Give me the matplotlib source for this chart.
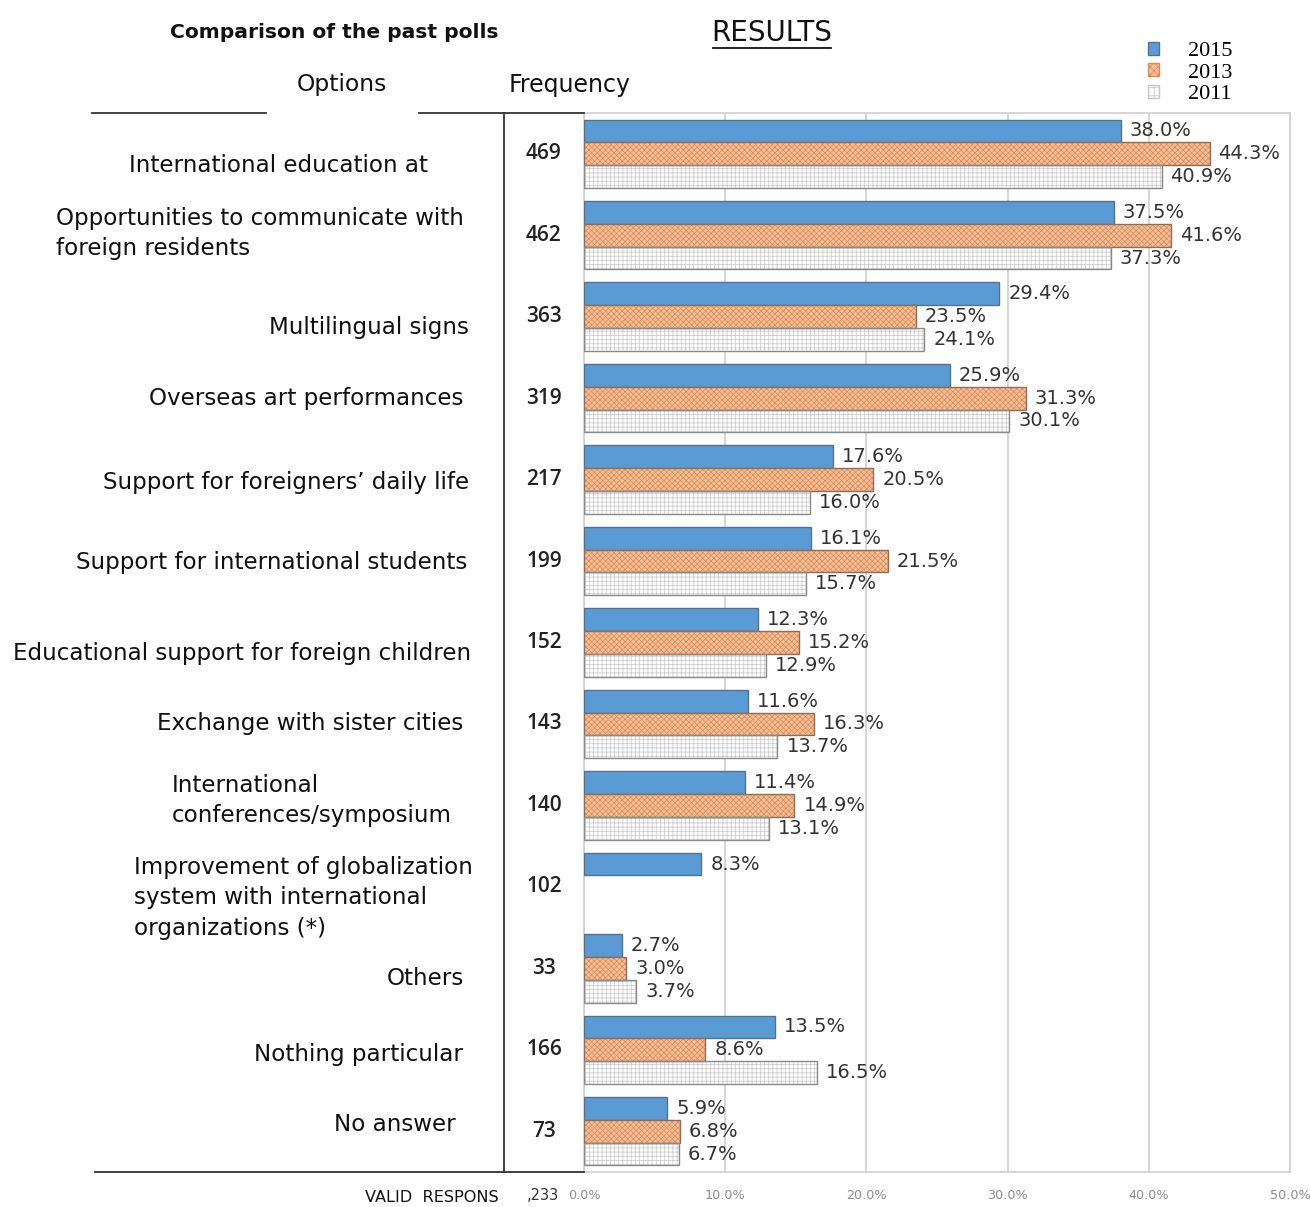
import numpy as np
import matplotlib
matplotlib.use("Agg")
import matplotlib.pyplot as plt
from matplotlib.patches import Patch
from matplotlib.lines import Line2D
from matplotlib import transforms

# ---- data ----
options = [
    "International education at",
    "Opportunities to communicate with\nforeign residents",
    "Multilingual signs",
    "Overseas art performances",
    "Support for foreigners\u2019 daily life",
    "Support for international students",
    "Educational support for foreign children",
    "Exchange with sister cities",
    "International\nconferences/symposium",
    "Improvement of globalization\nsystem with international\norganizations (*)",
    "Others",
    "Nothing particular",
    "No answer",
]
frequency = [469, 462, 363, 319, 217, 199, 152, 143, 140, 102, 33, 166, 73]
pct_2015 = [38.0, 37.5, 29.4, 25.9, 17.6, 16.1, 12.3, 11.6, 11.4, 8.3, 2.7, 13.5, 5.9]
pct_2013 = [44.3, 41.6, 23.5, 31.3, 20.5, 21.5, 15.2, 16.3, 14.9, np.nan, 3.0, 8.6, 6.8]
pct_2011 = [40.9, 37.3, 24.1, 30.1, 16.0, 15.7, 12.9, 13.7, 13.1, np.nan, 3.7, 16.5, 6.7]
years = ["2015", "2013", "2011"]
xticks = [0, 10, 20, 30, 40, 50]
valid_total = ",233"

# ---- layout of the option labels: (x pixel, horizontal alignment, y pixel offset) ----
label_layout = [
    (428, "right", -12), (56, "left", 2), (469, "right", -11), (463, "right", 0),
    (469, "right", -3), (467, "right", -1), (471, "right", -11), (463, "right", 0),
    (172, "left", 5), (134, "left", -11), (464, "right", -10), (463, "right", -5),
    (456, "right", 7),
]

W, H = 1310, 1207
fig = plt.figure(figsize=(W / 100, H / 100), dpi=100)
fig.patch.set_facecolor("white")

def fx(px):
    return px / W

def fy(py):
    return 1 - py / H

ax = fig.add_axes([fx(584), fy(1172), fx(1290) - fx(584), fy(113) - fy(1172)])

n = len(options)
y = np.arange(n)
bh = 0.28

plt.rcParams["hatch.linewidth"] = 0.5

blue = "#5B9BD5"
blue_edge = "#56718C"
orange = "#F6BE96"
orange_hatch = "#D98A55"
orange_edge = "#8C6E5A"
white_hatch = "#C8C8C8"
white_edge = "#8A8A8A"

b15 = ax.barh(y - bh, pct_2015, height=bh, color=blue, edgecolor=blue_edge, linewidth=1.0, zorder=3)
ax.barh(y, pct_2013, height=bh, color=orange, edgecolor=orange_hatch, hatch="xxxxxx", linewidth=0, zorder=3)
b13 = ax.barh(y, pct_2013, height=bh, fill=False, edgecolor=orange_edge, linewidth=1.0, zorder=4)
ax.barh(y + bh, pct_2011, height=bh, color="#FBFBFB", edgecolor=white_hatch, hatch="++++", linewidth=0, zorder=3)
b11 = ax.barh(y + bh, pct_2011, height=bh, fill=False, edgecolor=white_edge, linewidth=1.0, zorder=4)

ax.set_xlim(0, 50)
ax.set_ylim(n - 0.5, -0.5)
ax.set_yticks([])
ax.set_xticks(xticks)
ax.set_xticklabels([f"{t:.1f}%" for t in xticks], fontsize=9.2, color="#8C8C8C")
ax.tick_params(axis="x", length=0, pad=12)
ax.grid(axis="x", color="#D0D0D0", linewidth=1.2, zorder=0)
for s in ax.spines.values():
    s.set_color("#D0D0D0")
    s.set_linewidth(1.2)

# value labels next to each bar
for vals, off in ((pct_2015, -bh), (pct_2013, 0), (pct_2011, bh)):
    for i, v in enumerate(vals):
        if np.isnan(v):
            continue
        ax.annotate(f"{v:.1f}%", xy=(v, i + off), xytext=(9, 0), textcoords="offset pixels",
                    ha="left", va="center", fontsize=14, color="#333333", zorder=5)

# frequency column and option labels
tr = transforms.blended_transform_factory(fig.transFigure, ax.transData)
for i, f in enumerate(frequency):
    ax.annotate(str(f), xy=(fx(544), i), xycoords=tr, ha="center", va="center",
                fontsize=15, fontweight="semibold", family=["Open Sans", "DejaVu Sans"],
                color="#222222", annotation_clip=False)
for i, (txt, (px, ha, dy)) in enumerate(zip(options, label_layout)):
    ax.annotate(txt, xy=(fx(px), i), xycoords=tr, xytext=(0, dy), textcoords="offset pixels",
                ha=ha, va="center", fontsize=16.6, color="#111111", linespacing=1.4,
                multialignment="left", annotation_clip=False)

# header texts
fig.text(fx(334), fy(32), "Comparison of the past polls", ha="center", va="center",
         fontsize=14.6, fontweight="bold", color="#111111")
fig.text(fx(342), fy(85), "Options", ha="center", va="center", fontsize=16.8, color="#111111")
fig.text(fx(570), fy(85), "Frequency", ha="center", va="center", fontsize=17, color="#111111")
fig.text(fx(772), fy(33), "RESULTS", ha="center", va="center", fontsize=20,
         family=["Liberation Sans Narrow", "DejaVu Sans"], color="#111111")
fig.add_artist(Line2D([fx(713), fx(831)], [fy(48), fy(48)], color="#111111", linewidth=1.3))

# table rules
rule = dict(color="#333333", linewidth=1.3)
fig.add_artist(Line2D([fx(92), fx(266)], [fy(113), fy(113)], **rule))
fig.add_artist(Line2D([fx(419), fx(584)], [fy(113), fy(113)], **rule))
fig.add_artist(Line2D([fx(504), fx(504)], [fy(113), fy(1172)], **rule))
fig.add_artist(Line2D([fx(95), fx(584)], [fy(1172), fy(1172)], **rule))

# footer
fig.text(fx(432), fy(1197), "VALID  RESPONS", ha="center", va="center", fontsize=11.6, color="#111111")
fig.text(fx(543), fy(1195), valid_total, ha="center", va="center", fontsize=10.5, color="#333333")

# legend
handles = [
    Patch(facecolor=blue, edgecolor=blue_edge),
    Patch(facecolor=orange, edgecolor=orange_hatch, hatch="xxxx"),
    Patch(facecolor="#FBFBFB", edgecolor=white_hatch, hatch="++"),
]
fig.legend(handles, years, loc="upper left", bbox_to_anchor=(fx(1148), fy(42)),
           frameon=False, prop={"family": "Liberation Serif", "size": 16},
           handlelength=0.5, handleheight=0.5, handletextpad=1.3, labelspacing=0.1,
           borderpad=0, borderaxespad=0)

fig.savefig("out.png", dpi=100, facecolor="white")
